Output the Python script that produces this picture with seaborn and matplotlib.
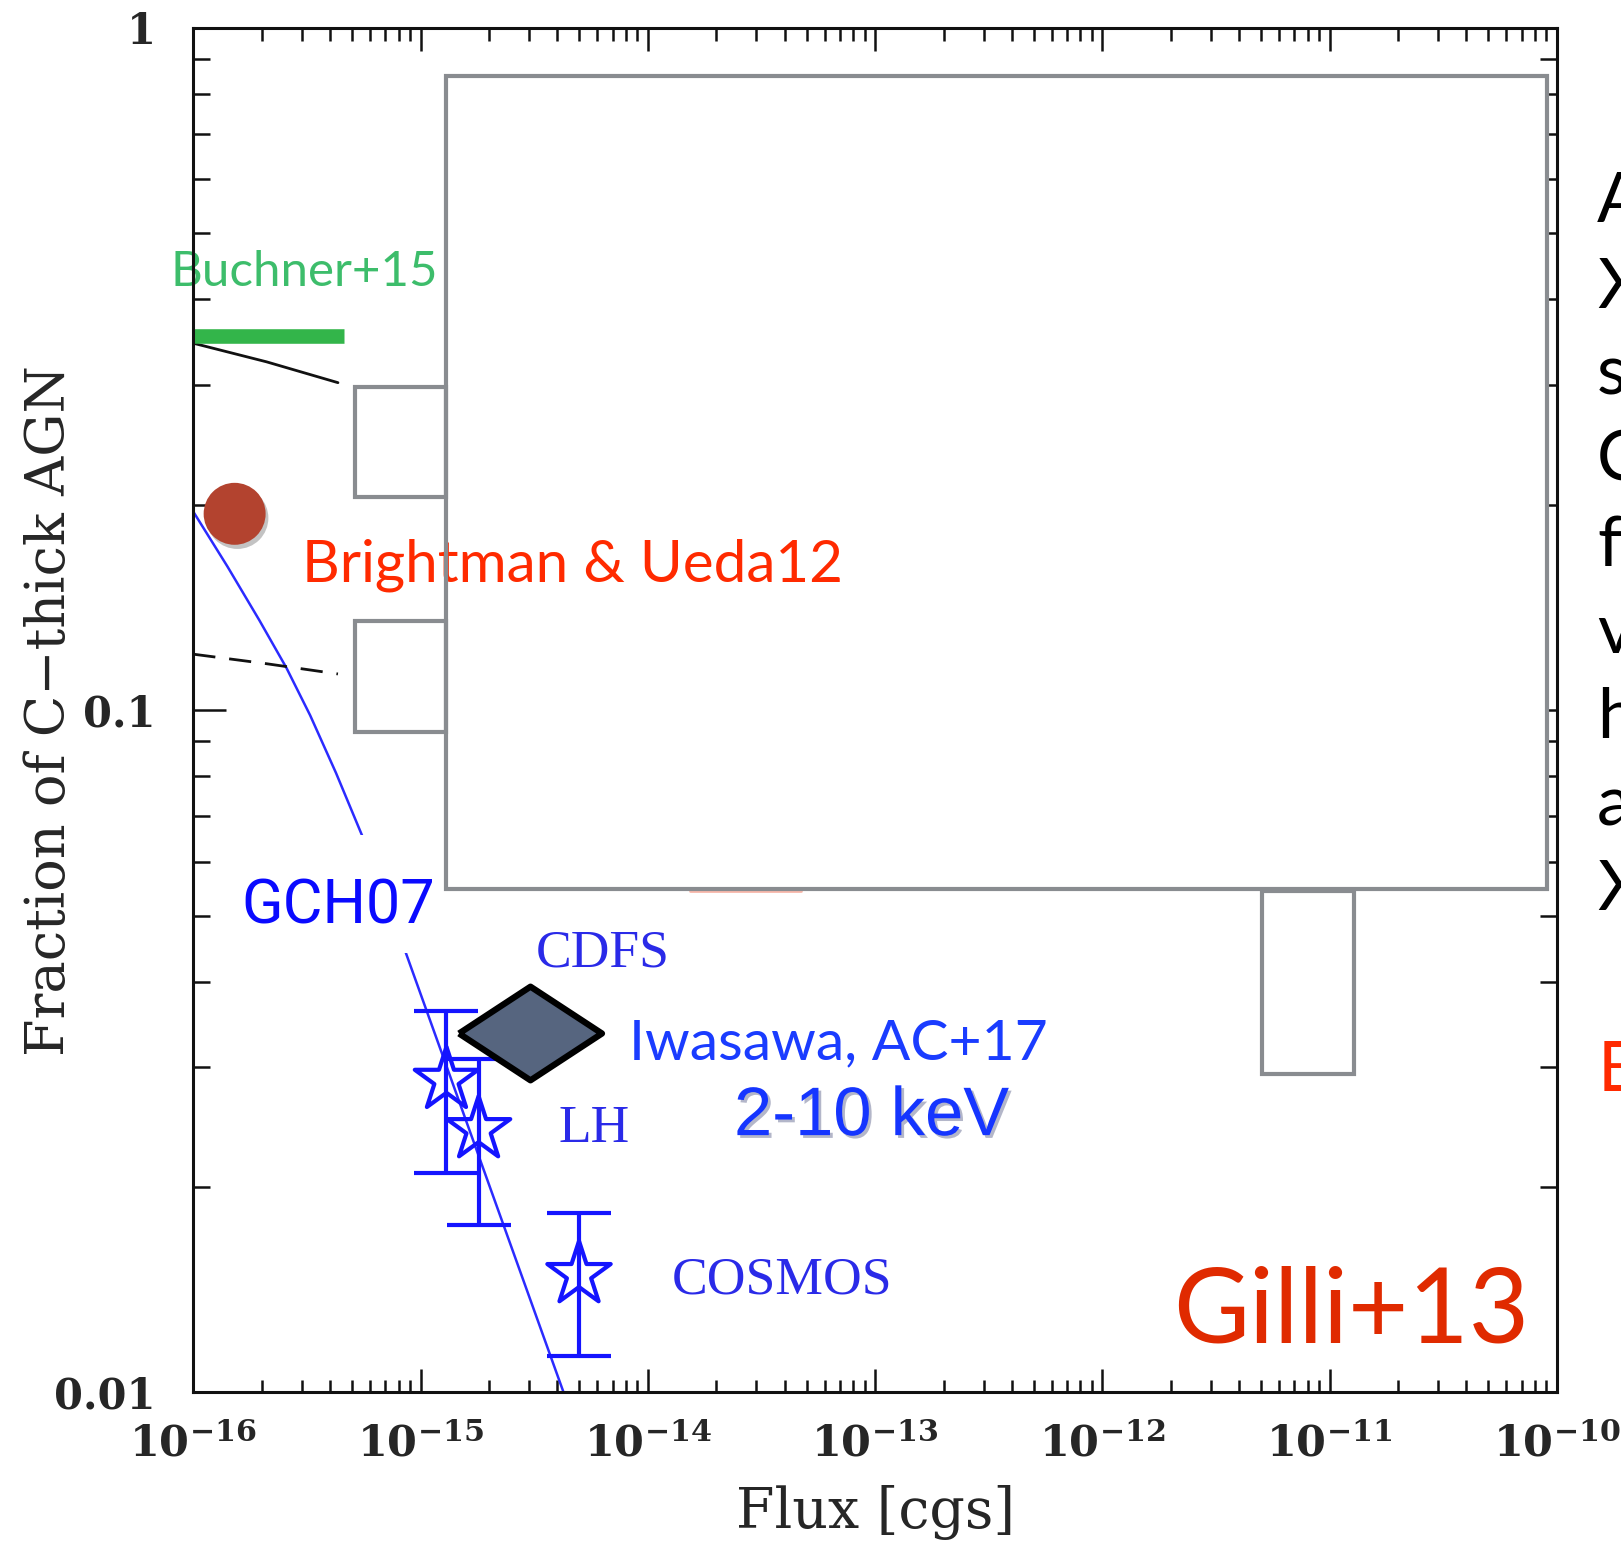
import numpy as np
import pandas as pd
import matplotlib
matplotlib.use('Agg')
import matplotlib.pyplot as plt
import matplotlib.patheffects as pe
from matplotlib.patches import Rectangle
from matplotlib.ticker import FixedLocator, FixedFormatter, NullFormatter, LogLocator
import seaborn as sns

# --- data ---
gch07_flux = [1.0e-16, 1.413e-16, 1.954e-16, 2.567e-16, 3.266e-16, 4.246e-16,
              5.52e-16, 8.57e-16, 4.26e-15]
gch07_frac = [0.1954, 0.1624, 0.1354, 0.1154, 0.0983, 0.0809,
              0.0656, 0.0443, 0.0100]

solid_flux = [1.0e-16, 2.10e-16, 4.33e-16]
solid_frac = [0.345, 0.324, 0.302]

dashed_flux = [1.0e-16, 2.09e-16, 4.33e-16]
dashed_frac = [0.1208, 0.117, 0.113]

buchner_flux = [1.0e-16, 4.6e-16]
buchner_frac = [0.353, 0.353]

brightman_flux = [1.52e-16]
brightman_frac = [0.194]

iwasawa_flux = [3.04e-15]
iwasawa_frac = [0.0336]

survey_names = ['CDFS', 'LH', 'COSMOS']
survey_flux = [1.30e-15, 1.80e-15, 4.98e-15]
survey_frac = [0.0287, 0.0243, 0.0149]
survey_lo = [0.0210, 0.0176, 0.0113]
survey_hi = [0.0362, 0.0308, 0.0183]

pink_flux = [1.53e-14, 4.73e-14]
pink_frac = [0.0543, 0.0543]

xtick_vals = [1e-16, 1e-15, 1e-14, 1e-13, 1e-12, 1e-11, 1e-10]
xtick_labels = [r'$\mathbf{10^{-16}}$', r'$\mathbf{10^{-15}}$', r'$\mathbf{10^{-14}}$',
                r'$\mathbf{10^{-13}}$', r'$\mathbf{10^{-12}}$', r'$\mathbf{10^{-11}}$',
                r'$\mathbf{10^{-10}}$']
ytick_vals = [0.01, 0.1, 1]
ytick_labels = ['0.01', '0.1', '1']

side_text = ['A', 'X', 's', 'C', 'fa', 'v', 'h', 'a', 'X']

# --- style ---
sns.set_theme(style='ticks')
plt.rcParams['font.family'] = ['DejaVu Serif']
plt.rcParams['mathtext.fontset'] = 'dejavuserif'

BLUE = '#1414ff'
SERIF_BLUE = '#2a2ae8'
RED = '#ff2a00'
GRAY = '#898c90'
GILL = ['Lato', 'DejaVu Sans']

fig = plt.figure(figsize=(16.21, 15.43), dpi=100)
ax = fig.add_axes([0.11925, 0.09754, 0.8412, 0.8844])
ax.set_xscale('log')
ax.set_yscale('log')
ax.set_xlim(1e-16, 1e-10)
ax.set_ylim(0.01, 1)

# curves
sns.lineplot(x=gch07_flux, y=gch07_frac, color='#2b2bff', linewidth=1.8,
             sort=False, estimator=None, ax=ax, zorder=2)
sns.lineplot(x=solid_flux, y=solid_frac, color='#111111', linewidth=2.0,
             sort=False, estimator=None, ax=ax, zorder=2)
sns.lineplot(x=dashed_flux, y=dashed_frac, color='#111111', linewidth=2.0,
             linestyle=(0, (8, 5)), sort=False, estimator=None, ax=ax, zorder=2)
sns.lineplot(x=buchner_flux, y=buchner_frac, color='#33b54a', linewidth=10.5,
             solid_capstyle='butt', sort=False, estimator=None, ax=ax, zorder=3)
sns.lineplot(x=pink_flux, y=pink_frac, color='#f7b7aa', linewidth=2.0,
             sort=False, estimator=None, ax=ax, zorder=2)

# survey points with error bars
yerr = [np.array(survey_frac) - np.array(survey_lo),
        np.array(survey_hi) - np.array(survey_frac)]
ax.errorbar(survey_flux, survey_frac, yerr=yerr, fmt='none', ecolor=BLUE,
            elinewidth=3, capsize=23, capthick=3, zorder=4)
sns.scatterplot(x=survey_flux, y=survey_frac, marker='*', s=2300,
                facecolors='none', edgecolors=BLUE, linewidth=3, ax=ax, zorder=4)

# Brightman & Ueda point
circ = ax.scatter(brightman_flux, brightman_frac, s=1990, color='#b3432f',
                  edgecolors='none', zorder=4)
circ.set_path_effects([pe.SimplePatchShadow(offset=(2, -3), shadow_rgbFace='#555555',
                                            alpha=0.35), pe.Normal()])

# Iwasawa diamond
diamond = [(-1, 0), (0, 0.655), (1, 0), (0, -0.655), (-1, 0)]
sns.scatterplot(x=iwasawa_flux, y=iwasawa_frac, marker=diamond, s=10600,
                color='#56657f', edgecolor='black', linewidth=4.5, ax=ax, zorder=4)

# white cover behind GCH07 label
ax.add_patch(Rectangle((0.0326, 0.322), 0.144, 0.0863, transform=ax.transAxes,
                       facecolor='white', edgecolor='none', zorder=3))

# overlay boxes (white fill, then grey frames on top)
boxes = [(0.185, 0.369, 0.8074, 0.5954),
         (0.1183, 0.656, 0.0667, 0.081),
         (0.1183, 0.4841, 0.0667, 0.0811),
         (0.784, 0.2333, 0.0674, 0.1341)]
bx0 = boxes[0]
ax.add_patch(Rectangle(bx0[:2], bx0[2], bx0[3], transform=ax.transAxes,
                       facecolor='white', edgecolor='none', zorder=3))
for b in boxes:
    ax.add_patch(Rectangle(b[:2], b[2], b[3], transform=ax.transAxes,
                           facecolor='none', edgecolor=GRAY, linewidth=3,
                           zorder=6, clip_on=False))

# labels
ax.text(-0.0167, 0.8106, 'Buchner+15', transform=ax.transAxes, color='#3dbd6b',
        fontsize=35.5, family=GILL, va='baseline', ha='left', zorder=5)
ax.text(0.0796, 0.594, 'Brightman & Ueda12', transform=ax.transAxes, color=RED,
        fontsize=42, family=GILL, va='baseline', ha='left', zorder=5)
ax.text(0.0349, 0.3439, 'GCH07', transform=ax.transAxes, color='#0a0aff',
        fontsize=44, family=['Roboto', 'DejaVu Sans'],
        va='baseline', ha='left', zorder=5)
ax.text(0.3192, 0.2439, 'Iwasawa, AC+17', transform=ax.transAxes, color='#1a3cff',
        fontsize=41, family=GILL, va='baseline', ha='left', zorder=5)
ax.text(0.3965, 0.1886, '2-10 keV', transform=ax.transAxes, color='#1535ff',
        fontsize=49.5, family=['Liberation Sans', 'DejaVu Sans'], va='baseline',
        ha='left', zorder=5,
        path_effects=[pe.SimplePatchShadow(offset=(2, -2), alpha=0.3), pe.Normal()])
survey_pos = [(0.2509, 0.3121), (0.2676, 0.1833), (0.3510, 0.0727)]
for name, (tx, ty) in zip(survey_names, survey_pos):
    ax.text(tx, ty, name, transform=ax.transAxes, color=SERIF_BLUE, fontsize=38.5,
            family=['Liberation Serif'], va='baseline', ha='left', zorder=5)
ax.text(0.9795, 0.0364, 'Gilli+13', transform=ax.transAxes, color='#e02a00',
        fontsize=75, family=GILL, va='baseline', ha='right', zorder=5)

# cut-off slide text on the right
side_y = [0.8559, 0.8003, 0.7441, 0.6885, 0.6329, 0.5765, 0.5216, 0.4653, 0.4104]
for t, yy in zip(side_text, side_y):
    fig.text(0.9853, yy, t, color='black', fontsize=50, family=GILL, va='baseline')
fig.text(0.9853, 0.2931, 'E', color=RED, fontsize=50, family=GILL, va='baseline')

# axes, ticks
for s in ax.spines.values():
    s.set_linewidth(2.2)
    s.set_color('#111111')
    s.set_zorder(7)

ax.xaxis.set_major_locator(FixedLocator(xtick_vals))
ax.xaxis.set_major_formatter(FixedFormatter(xtick_labels))
ax.yaxis.set_major_locator(FixedLocator(ytick_vals))
ax.yaxis.set_major_formatter(FixedFormatter(ytick_labels))
ax.xaxis.set_minor_locator(LogLocator(base=10, subs=np.arange(2, 10), numticks=20))
ax.yaxis.set_minor_locator(LogLocator(base=10, subs=np.arange(2, 10), numticks=20))
ax.xaxis.set_minor_formatter(NullFormatter())
ax.yaxis.set_minor_formatter(NullFormatter())

ax.tick_params(which='both', direction='in', top=True, right=True,
               color='#111111', width=1.8)
ax.tick_params(axis='x', which='major', length=16.5)
ax.tick_params(axis='x', which='minor', length=9)
ax.tick_params(axis='y', which='major', length=24)
ax.tick_params(axis='y', which='minor', length=12.5)
ax.tick_params(axis='x', which='major', labelsize=31, pad=22)
ax.tick_params(axis='y', which='major', labelsize=30, pad=27)
for lab in ax.get_yticklabels():
    lab.set_fontweight('bold')

ax.set_xlabel('Flux [cgs]', fontsize=40, family=['DejaVu Serif'])
ax.xaxis.set_label_coords(0.5, -0.068)
ax.set_ylabel('Fraction of C\u2212thick AGN', fontsize=39, family=['DejaVu Serif'])
ax.yaxis.set_label_coords(-0.086, 0.5)

fig.savefig('out.png', dpi=100)
